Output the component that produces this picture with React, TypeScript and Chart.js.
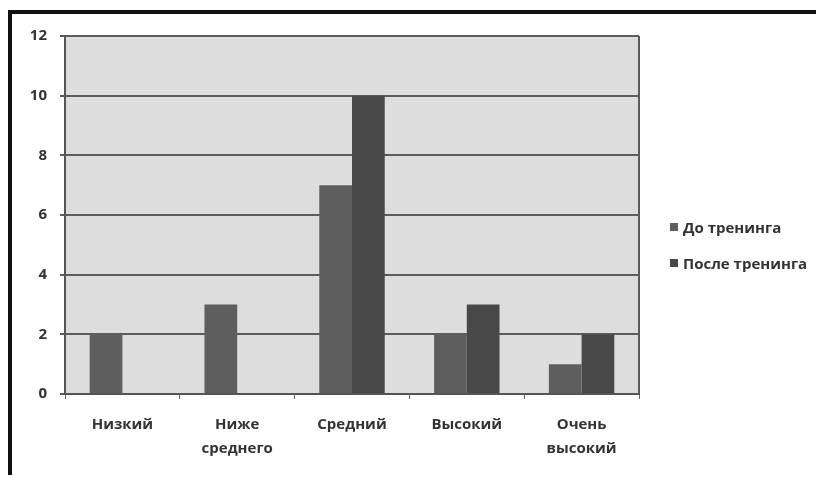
import React, { useEffect, useRef } from "react";
import { Chart, registerables } from "chart.js";

Chart.register(...registerables);

const categories: (string | string[])[] = [
  "Низкий",
  ["Ниже", "среднего"],
  "Средний",
  "Высокий",
  ["Очень", "высокий"],
];
const seriesNames = ["До тренинга", "После тренинга"];
const beforeValues = [2, 3, 7, 2, 1];
const afterValues = [0, 0, 10, 3, 2];
const seriesColors = ["#5e5e5e", "#484848"];
const yTicks = { min: 0, max: 12, step: 2 };

const FONT = "'Open Sans', 'DejaVu Sans', sans-serif";

const plotBg = {
  id: "plotBg",
  beforeDraw(chart: any) {
    const { ctx, chartArea: a } = chart;
    ctx.save();
    ctx.fillStyle = "#dddddd";
    ctx.fillRect(a.left, a.top, a.right - a.left, a.bottom - a.top);
    ctx.restore();
  },
  afterDatasetsDraw(chart: any) {
    const { ctx, chartArea: a } = chart;
    ctx.save();
    ctx.strokeStyle = "#5a5a5a";
    ctx.lineWidth = 2;
    ctx.beginPath();
    ctx.moveTo(a.right, a.top);
    ctx.lineTo(a.right, a.bottom);
    ctx.stroke();
    ctx.restore();
  },
};

export default function App() {
  const ref = useRef<HTMLCanvasElement | null>(null);

  useEffect(() => {
    document.body.style.overflow = "hidden";
    if (!ref.current) return;
    const chart = new Chart(ref.current, {
      type: "bar",
      data: {
        labels: categories,
        datasets: [
          {
            label: seriesNames[0],
            data: beforeValues,
            backgroundColor: seriesColors[0],
            categoryPercentage: 0.57,
            barPercentage: 1,
          },
          {
            label: seriesNames[1],
            data: afterValues,
            backgroundColor: seriesColors[1],
            categoryPercentage: 0.57,
            barPercentage: 1,
          },
        ],
      },
      options: {
        animation: false,
        responsive: false,
        maintainAspectRatio: false,
        layout: { padding: { top: 17, right: 177, left: 0, bottom: 0 } },
        plugins: {
          legend: { display: false },
          tooltip: { enabled: false },
        },
        scales: {
          x: {
            offset: true,
            grid: {
              offset: true,
              drawOnChartArea: false,
              drawTicks: true,
              tickLength: 5,
              color: "#666",
              lineWidth: 1,
            },
            border: { color: "#555", width: 2 },
            ticks: {
              color: "#333",
              font: { family: FONT, size: 15, weight: "bold", lineHeight: 1.6 },
              padding: 14,
              maxRotation: 0,
              autoSkip: false,
            },
            afterFit(scale: any) {
              scale.height = 83;
            },
          },
          y: {
            min: yTicks.min,
            max: yTicks.max,
            ticks: {
              stepSize: yTicks.step,
              color: "#333",
              font: { family: FONT, size: 15, weight: "bold" },
              padding: 13,
            },
            grid: {
              color: "#5c5c5c",
              lineWidth: 2,
              tickLength: 5,
            },
            border: { color: "#555", width: 2 },
            afterFit(scale: any) {
              scale.width = 53;
            },
          },
        },
      },
      plugins: [plotBg],
    });
    return () => chart.destroy();
  }, []);

  const legendRow = (i: number, top: number) => (
    <div
      key={i}
      style={{
        position: "absolute",
        left: 658,
        top,
        height: 18,
        display: "flex",
        alignItems: "center",
        fontFamily: FONT,
        fontWeight: 700,
        fontSize: 15,
        color: "#333",
        whiteSpace: "nowrap",
      }}
    >
      <span
        style={{
          display: "inline-block",
          width: 8,
          height: 8,
          background: seriesColors[i],
          marginRight: 5,
        }}
      />
      {seriesNames[i]}
    </div>
  );

  return (
    <div
      style={{
        position: "relative",
        top: 2,
        width: 808,
        height: 467,
        boxSizing: "border-box",
        borderTop: "4px solid #111",
        borderLeft: "4px solid #111",
        background: "#fff",
      }}
    >
      <canvas ref={ref} width={804} height={463} style={{ display: "block" }} />
      {legendRow(0, 204)}
      {legendRow(1, 240)}
    </div>
  );
}
